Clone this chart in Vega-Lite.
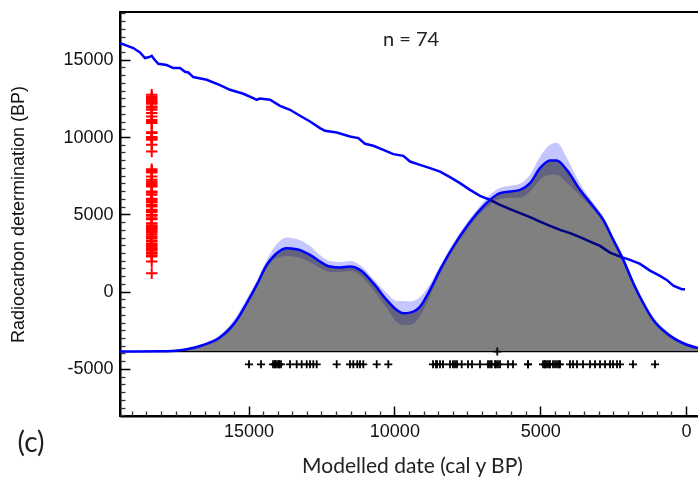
{
  "$schema": "https://vega.github.io/schema/vega-lite/v6.json",
  "width": 581,
  "height": 404,
  "autosize": "none",
  "padding": {"left": 120, "top": 12, "right": 0, "bottom": 65},
  "background": "white",
  "config": {"view": {"stroke": "#000", "strokeWidth": 2}},
  "resolve": {"axis": {"x": "independent", "y": "independent"}},
  "datasets": {
    "calib": [
      {"x": 19408, "y": 16076}, {"x": 18952, "y": 15753}, {"x": 18722, "y": 15468}, {"x": 18551, "y": 15106},
      {"x": 18403, "y": 15170}, {"x": 18321, "y": 15254}, {"x": 18242, "y": 15041}, {"x": 18095, "y": 14737},
      {"x": 17807, "y": 14653}, {"x": 17581, "y": 14459}, {"x": 17351, "y": 14459}, {"x": 17179, "y": 14219},
      {"x": 17066, "y": 14174}, {"x": 16895, "y": 13876}, {"x": 16435, "y": 13701}, {"x": 15979, "y": 13358},
      {"x": 15636, "y": 13054}, {"x": 15180, "y": 12795}, {"x": 14721, "y": 12407}, {"x": 14608, "y": 12491},
      {"x": 14265, "y": 12407}, {"x": 13922, "y": 12019}, {"x": 13579, "y": 11760}, {"x": 13236, "y": 11372},
      {"x": 12893, "y": 11002}, {"x": 12550, "y": 10575}, {"x": 12378, "y": 10400}, {"x": 11977, "y": 10290},
      {"x": 11521, "y": 10032}, {"x": 11237, "y": 9928}, {"x": 11007, "y": 9559}, {"x": 10722, "y": 9430},
      {"x": 10379, "y": 9171}, {"x": 10036, "y": 8893}, {"x": 9694, "y": 8783}, {"x": 9464, "y": 8414},
      {"x": 9121, "y": 8200}, {"x": 8778, "y": 7986}, {"x": 8435, "y": 7766}, {"x": 8092, "y": 7404},
      {"x": 7750, "y": 7016}, {"x": 7407, "y": 6582}, {"x": 7064, "y": 6194}, {"x": 6721, "y": 5935},
      {"x": 6378, "y": 5611}, {"x": 6035, "y": 5333}, {"x": 5692, "y": 5074}, {"x": 5349, "y": 4815},
      {"x": 5006, "y": 4530}, {"x": 4663, "y": 4252}, {"x": 4320, "y": 3993}, {"x": 3978, "y": 3780},
      {"x": 3635, "y": 3521}, {"x": 3292, "y": 3236}, {"x": 2949, "y": 2958}, {"x": 2606, "y": 2524},
      {"x": 2263, "y": 2265}, {"x": 1920, "y": 2052}, {"x": 1577, "y": 1793}, {"x": 1234, "y": 1359},
      {"x": 892, "y": 1016}, {"x": 662, "y": 757}, {"x": 435, "y": 388}, {"x": 147, "y": 155}, {"x": 34, "y": 155}
    ],
    "dens": [
      {"x": 19408, "y": -3880, "lo": -3880, "hi": -3880},
      {"x": 18037, "y": -3857, "lo": -3862, "hi": -3852},
      {"x": 17522, "y": -3825, "lo": -3851, "hi": -3806},
      {"x": 17121, "y": -3728, "lo": -3773, "hi": -3676},
      {"x": 16552, "y": -3450, "lo": -3547, "hi": -3352},
      {"x": 15979, "y": -2951, "lo": -3094, "hi": -2802},
      {"x": 15407, "y": -1832, "lo": -2026, "hi": -1573},
      {"x": 15064, "y": -751, "lo": -926, "hi": -472},
      {"x": 14721, "y": 434, "lo": 239, "hi": 693},
      {"x": 14378, "y": 1722, "lo": 1534, "hi": 2046},
      {"x": 14035, "y": 2485, "lo": 2176, "hi": 3087},
      {"x": 13692, "y": 2809, "lo": 2311, "hi": 3508},
      {"x": 13349, "y": 2744, "lo": 2246, "hi": 3411},
      {"x": 12893, "y": 2375, "lo": 1922, "hi": 2958},
      {"x": 12550, "y": 1942, "lo": 1534, "hi": 2375},
      {"x": 12207, "y": 1618, "lo": 1275, "hi": 1987},
      {"x": 11864, "y": 1553, "lo": 1275, "hi": 1922},
      {"x": 11521, "y": 1618, "lo": 1340, "hi": 1987},
      {"x": 11178, "y": 1404, "lo": 1081, "hi": 1722},
      {"x": 10722, "y": 544, "lo": 110, "hi": 822},
      {"x": 10263, "y": -537, "lo": -1055, "hi": -84},
      {"x": 9920, "y": -1184, "lo": -1961, "hi": -602},
      {"x": 9694, "y": -1398, "lo": -2155, "hi": -602},
      {"x": 9464, "y": -1359, "lo": -2155, "hi": -634},
      {"x": 9121, "y": -971, "lo": -1573, "hi": -343},
      {"x": 8778, "y": 110, "lo": -278, "hi": 498},
      {"x": 8435, "y": 1404, "lo": 1146, "hi": 1663},
      {"x": 7980, "y": 2912, "lo": 2699, "hi": 3152},
      {"x": 7520, "y": 4207, "lo": 3993, "hi": 4446},
      {"x": 7064, "y": 5288, "lo": 5029, "hi": 5546},
      {"x": 6721, "y": 5935, "lo": 5611, "hi": 6258},
      {"x": 6378, "y": 6368, "lo": 5999, "hi": 6711},
      {"x": 6035, "y": 6472, "lo": 6064, "hi": 6841},
      {"x": 5692, "y": 6582, "lo": 6064, "hi": 6970},
      {"x": 5349, "y": 7016, "lo": 6453, "hi": 7553},
      {"x": 5006, "y": 7986, "lo": 7229, "hi": 8718},
      {"x": 4663, "y": 8478, "lo": 7553, "hi": 9494},
      {"x": 4434, "y": 8478, "lo": 7553, "hi": 9624},
      {"x": 4091, "y": 7876, "lo": 7035, "hi": 8653},
      {"x": 3635, "y": 6582, "lo": 6194, "hi": 6970},
      {"x": 3179, "y": 5501, "lo": 5288, "hi": 5741},
      {"x": 2836, "y": 4640, "lo": 4446, "hi": 4835},
      {"x": 2493, "y": 3346, "lo": 3152, "hi": 3540},
      {"x": 2150, "y": 2052, "lo": 1858, "hi": 2246},
      {"x": 1807, "y": 544, "lo": 369, "hi": 757},
      {"x": 1464, "y": -751, "lo": -926, "hi": -537},
      {"x": 1121, "y": -1832, "lo": -1961, "hi": -1638},
      {"x": 662, "y": -2692, "lo": -2835, "hi": -2543},
      {"x": 93, "y": -3340, "lo": -3450, "hi": -3223},
      {"x": -514, "y": -3696, "lo": -3773, "hi": -3611}
    ],
    "modelled": [
      {"x": 14985, "y": -4700}, {"x": 14573, "y": -4700}, {"x": 14162, "y": -4700}, {"x": 14093, "y": -4700},
      {"x": 14093, "y": -4700}, {"x": 14025, "y": -4700}, {"x": 13956, "y": -4700}, {"x": 13956, "y": -4700},
      {"x": 13887, "y": -4700}, {"x": 13579, "y": -4700}, {"x": 13349, "y": -4700}, {"x": 13178, "y": -4700},
      {"x": 13006, "y": -4700}, {"x": 12893, "y": -4700}, {"x": 12780, "y": -4700}, {"x": 12663, "y": -4700},
      {"x": 11978, "y": -4700}, {"x": 11521, "y": -4700}, {"x": 11408, "y": -4700}, {"x": 11271, "y": -4700},
      {"x": 11179, "y": -4700}, {"x": 11065, "y": -4700}, {"x": 10606, "y": -4700}, {"x": 10208, "y": -4700},
      {"x": 8675, "y": -4700}, {"x": 8573, "y": -4700}, {"x": 8538, "y": -4700}, {"x": 8435, "y": -4700},
      {"x": 8332, "y": -4700}, {"x": 8092, "y": -4700}, {"x": 7990, "y": -4700}, {"x": 7921, "y": -4700},
      {"x": 7853, "y": -4700}, {"x": 7691, "y": -4700}, {"x": 7475, "y": -4700}, {"x": 7338, "y": -4700},
      {"x": 7064, "y": -4700}, {"x": 6789, "y": -4700}, {"x": 6721, "y": -4700}, {"x": 6663, "y": -4700},
      {"x": 6549, "y": -4700}, {"x": 6515, "y": -4700}, {"x": 6447, "y": -4700}, {"x": 6378, "y": -4700},
      {"x": 6104, "y": -4700}, {"x": 5932, "y": -4700}, {"x": 5418, "y": -4700}, {"x": 5418, "y": -4700},
      {"x": 4903, "y": -4700}, {"x": 4835, "y": -4700}, {"x": 4835, "y": -4700}, {"x": 4766, "y": -4700},
      {"x": 4698, "y": -4700}, {"x": 4663, "y": -4700}, {"x": 4561, "y": -4700}, {"x": 4492, "y": -4700},
      {"x": 4423, "y": -4700}, {"x": 4355, "y": -4700}, {"x": 4320, "y": -4700}, {"x": 3978, "y": -4700},
      {"x": 3875, "y": -4700}, {"x": 3738, "y": -4700}, {"x": 3532, "y": -4700}, {"x": 3292, "y": -4700},
      {"x": 3120, "y": -4700}, {"x": 2949, "y": -4700}, {"x": 2777, "y": -4700}, {"x": 2606, "y": -4700},
      {"x": 2503, "y": -4700}, {"x": 2366, "y": -4700}, {"x": 2263, "y": -4700}, {"x": 1817, "y": -4700},
      {"x": 1063, "y": -4700}, {"x": 6471, "y": -3880}
    ],
    "rc": [
      {"x": 18320, "y": 12730}, {"x": 18320, "y": 12517}, {"x": 18320, "y": 12297}, {"x": 18320, "y": 12148},
      {"x": 18320, "y": 11973}, {"x": 18320, "y": 11760}, {"x": 18320, "y": 11546}, {"x": 18320, "y": 11326},
      {"x": 18320, "y": 11002}, {"x": 18320, "y": 10899}, {"x": 18320, "y": 10252}, {"x": 18320, "y": 9928},
      {"x": 18320, "y": 9818}, {"x": 18320, "y": 9494}, {"x": 18320, "y": 9061}, {"x": 18320, "y": 12600},
      {"x": 18320, "y": 12400}, {"x": 18320, "y": 12200}, {"x": 18320, "y": 11900}, {"x": 18320, "y": 11100},
      {"x": 18320, "y": 10000}, {"x": 18320, "y": 9870}, {"x": 18320, "y": 10300},
      {"x": 18320, "y": 7922}, {"x": 18320, "y": 7702}, {"x": 18320, "y": 7443}, {"x": 18320, "y": 7229},
      {"x": 18320, "y": 7016}, {"x": 18320, "y": 6796}, {"x": 18320, "y": 6472}, {"x": 18320, "y": 6258},
      {"x": 18320, "y": 5935}, {"x": 18320, "y": 5760}, {"x": 18320, "y": 5501}, {"x": 18320, "y": 5223},
      {"x": 18320, "y": 4964}, {"x": 18320, "y": 4686}, {"x": 18320, "y": 4427}, {"x": 18320, "y": 4207},
      {"x": 18320, "y": 4103}, {"x": 18320, "y": 3883}, {"x": 18320, "y": 3670}, {"x": 18320, "y": 3456},
      {"x": 18320, "y": 3236}, {"x": 18320, "y": 3022}, {"x": 18320, "y": 2809}, {"x": 18320, "y": 2699},
      {"x": 18320, "y": 2485}, {"x": 18320, "y": 2265}, {"x": 18320, "y": 1942}, {"x": 18320, "y": 1191},
      {"x": 18320, "y": 7800}, {"x": 18320, "y": 7100}, {"x": 18320, "y": 6900}, {"x": 18320, "y": 6400},
      {"x": 18320, "y": 6000}, {"x": 18320, "y": 5850}, {"x": 18320, "y": 5600}, {"x": 18320, "y": 5300},
      {"x": 18320, "y": 5150}, {"x": 18320, "y": 4900}, {"x": 18320, "y": 4750}, {"x": 18320, "y": 4300},
      {"x": 18320, "y": 4150}, {"x": 18320, "y": 4050}, {"x": 18320, "y": 3950}, {"x": 18320, "y": 3800},
      {"x": 18320, "y": 3550}, {"x": 18320, "y": 3300}, {"x": 18320, "y": 3100}, {"x": 18320, "y": 2900},
      {"x": 18320, "y": 2750}, {"x": 18320, "y": 2550}, {"x": 18320, "y": 2350}
    ],
    "note": [{"label": "n = 74"}],
    "panel": [{"label": "(c)"}],
    "base": [{"level": -3880}]
  },
  "layer": [
    {
      "data": {"name": "calib"},
      "mark": {"type": "line", "color": "#0000ff", "strokeWidth": 2.5},
      "encoding": {
        "x": {
          "field": "x", "type": "quantitative",
          "scale": {"domain": [19408, -514], "nice": false, "zero": false},
          "axis": {
            "orient": "bottom",
            "values": [0, 5000, 10000, 15000],
            "labelExpr": "'' + datum.value",
            "tickSize": -10, "tickColor": "#000", "tickWidth": 1.5,
            "labelPadding": 16,
            "labelFont": "Liberation Sans", "labelFontSize": 18, "labelColor": "#111",
            "labelOverlap": false, "labelFlush": false,
            "domainColor": "#000", "domainWidth": 2, "grid": false,
            "title": "Modelled date (cal y BP)",
            "titleFont": "Lato", "titleFontSize": 21, "titleFontWeight": "normal", "titleColor": "#222",
            "titleX": 292, "titleY": 50, "titleBaseline": "middle", "titleAlign": "center"
          }
        },
        "y": {
          "field": "y", "type": "quantitative",
          "scale": {"domain": [-8045, 18085], "nice": false, "zero": false},
          "axis": {
            "orient": "left",
            "values": [-5000, 0, 5000, 10000, 15000],
            "labelExpr": "'' + datum.value",
            "tickSize": -10, "tickColor": "#000", "tickWidth": 1.5,
            "labelPadding": 17,
            "labelFont": "Liberation Sans", "labelFontSize": 18, "labelColor": "#111",
            "labelOverlap": false, "labelFlush": false,
            "domainColor": "#000", "domainWidth": 2, "grid": false,
            "title": "Radiocarbon determination (BP)",
            "titleFont": "Liberation Sans", "titleFontSize": 18, "titleFontWeight": "normal", "titleColor": "#111",
            "titleX": -102, "titleY": 202, "titleAngle": 270, "titleBaseline": "middle", "titleAlign": "center"
          }
        }
      }
    },
    {
      "data": {"name": "dens"},
      "mark": {"type": "area", "color": "#808080", "opacity": 1, "blend": "multiply", "interpolate": "monotone"},
      "encoding": {
        "x": {"field": "x", "type": "quantitative", "axis": null},
        "y": {"field": "y", "type": "quantitative", "axis": null},
        "y2": {"datum": -3880}
      }
    },
    {
      "data": {"name": "dens"},
      "mark": {"type": "area", "color": "#c6c6ff", "opacity": 1, "blend": "multiply", "interpolate": "monotone"},
      "encoding": {
        "x": {"field": "x", "type": "quantitative", "axis": null},
        "y": {"field": "lo", "type": "quantitative", "axis": null},
        "y2": {"field": "hi"}
      }
    },
    {
      "data": {"name": "base"},
      "mark": {"type": "rule", "color": "#000", "strokeWidth": 1.3},
      "encoding": {
        "y": {"field": "level", "type": "quantitative", "axis": null}
      }
    },
    {
      "data": {"name": "dens"},
      "mark": {"type": "line", "color": "#0000ff", "strokeWidth": 2.5, "interpolate": "monotone"},
      "encoding": {
        "x": {
          "field": "x", "type": "quantitative",
          "axis": {
            "orient": "bottom",
            "values": [500,1000,1500,2000,2500,3000,3500,4000,4500,5500,6000,6500,7000,7500,8000,8500,9000,9500,10500,11000,11500,12000,12500,13000,13500,14000,14500,15500,16000,16500,17000,17500,18000,18500,19000],
            "labels": false, "domain": false, "grid": false, "title": null,
            "tickSize": -5, "tickColor": "#333", "tickWidth": 1.3
          }
        },
        "y": {
          "field": "y", "type": "quantitative",
          "axis": {
            "orient": "left",
            "values": [-8000,-7500,-7000,-6500,-6000,-5500,-4500,-4000,-3500,-3000,-2500,-2000,-1500,-1000,-500,500,1000,1500,2000,2500,3000,3500,4000,4500,5500,6000,6500,7000,7500,8000,8500,9000,9500,10500,11000,11500,12000,12500,13000,13500,14000,14500,15500,16000,16500,17000,17500,18000],
            "labels": false, "domain": false, "grid": false, "title": null,
            "tickSize": -5, "tickColor": "#333", "tickWidth": 1.3
          }
        }
      }
    },
    {
      "data": {"name": "modelled"},
      "mark": {"type": "point", "shape": "M-1,0L1,0M0,-1L0,1", "size": 64, "stroke": "#000", "strokeWidth": 1.8, "filled": false, "opacity": 1},
      "encoding": {
        "x": {"field": "x", "type": "quantitative", "axis": null},
        "y": {"field": "y", "type": "quantitative", "axis": null}
      }
    },
    {
      "data": {"name": "rc"},
      "mark": {"type": "point", "shape": "M-1,0L1,0M0,-1L0,1", "size": 130, "stroke": "#ff0000", "strokeWidth": 2, "filled": false, "opacity": 1},
      "encoding": {
        "x": {"field": "x", "type": "quantitative", "axis": null},
        "y": {"field": "y", "type": "quantitative", "axis": null}
      }
    },
    {
      "data": {"name": "note"},
      "mark": {"type": "text", "font": "Lato", "fontSize": 20, "color": "#222", "align": "center", "baseline": "middle"},
      "encoding": {
        "x": {"datum": 9430, "axis": null},
        "y": {"datum": 16290, "axis": null},
        "text": {"field": "label"}
      }
    },
    {
      "data": {"name": "panel"},
      "mark": {"type": "text", "font": "Lato", "fontSize": 28, "color": "#222", "align": "center", "baseline": "middle"},
      "encoding": {
        "x": {"datum": 22460, "axis": null},
        "y": {"datum": -9857, "axis": null},
        "text": {"field": "label"}
      }
    }
  ]
}
